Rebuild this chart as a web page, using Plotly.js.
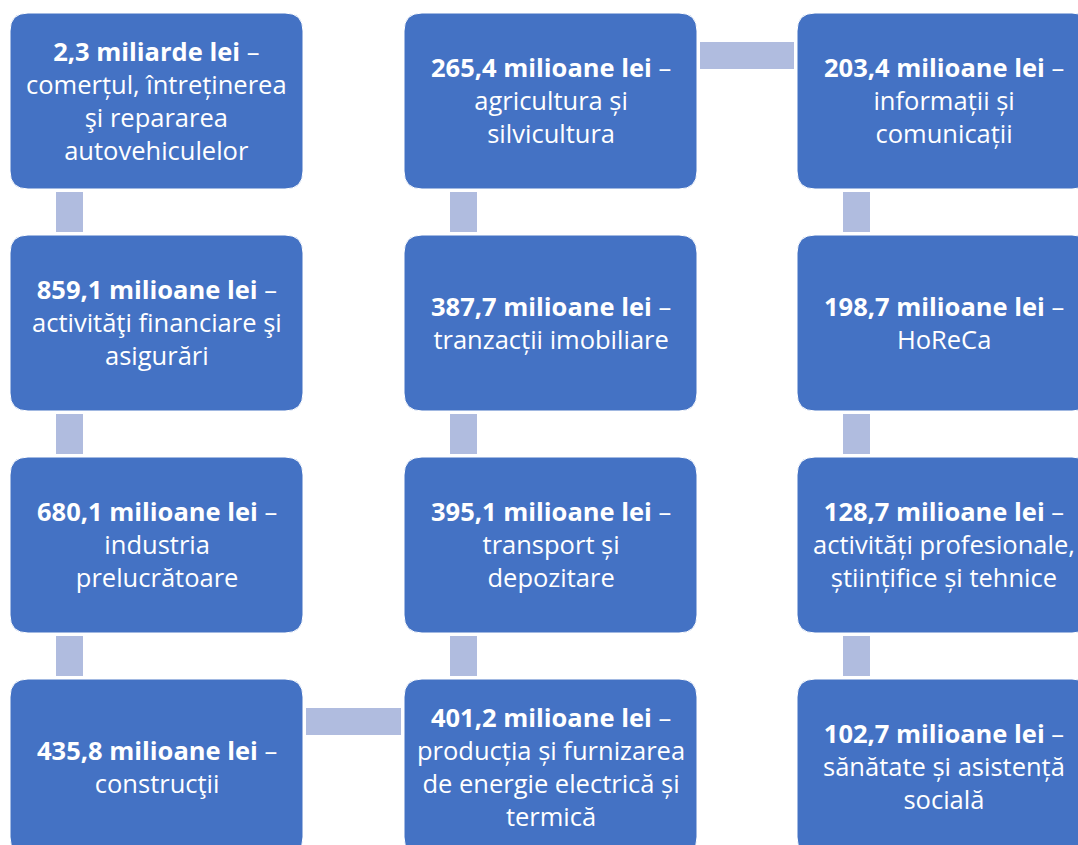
<!DOCTYPE html>
<html>
<head>
<meta charset="utf-8">
<script src="https://cdn.plot.ly/plotly-3.0.1.min.js"></script>
<style>html,body{margin:0;padding:0;background:#fff;} #chart{width:1078px;height:845px;}</style>
</head>
<body>
<div id="chart"></div>
<script>
// Values in flow order (column 1 down, column 2 up, column 3 down)
var amounts = ["2,3 miliarde lei", "859,1 milioane lei", "680,1 milioane lei", "435,8 milioane lei",
               "401,2 milioane lei", "395,1 milioane lei", "387,7 milioane lei", "265,4 milioane lei",
               "203,4 milioane lei", "198,7 milioane lei", "128,7 milioane lei", "102,7 milioane lei"];
var sectors = ["comerțul, întreținerea<br>şi repararea<br>autovehiculelor",
               "activităţi financiare şi<br>asigurări",
               "industria<br>prelucrătoare",
               "construcţii",
               "producția și furnizarea<br>de energie electrică și<br>termică",
               "transport și<br>depozitare",
               "tranzacții imobiliare",
               "agricultura și<br>silvicultura",
               "informații și<br>comunicații",
               "HoReCa",
               "activități profesionale,<br>științifice și tehnice",
               "sănătate și asistență<br>socială"];
// grid slot (column, row) of each step in the flow
var cols = [0, 0, 0, 0, 1, 1, 1, 1, 2, 2, 2, 2];
var rows = [0, 1, 2, 3, 3, 2, 1, 0, 0, 1, 2, 3];

// layout geometry
var colLeft = [10, 404, 797], boxW = 293;
var rowTop = [13, 235, 457, 679], boxH = 176;
var cornerR = 18;
var boxColor = "#4472C4", linkColor = "#B0BCDF";

function roundRect(x0, y0, x1, y1, r) {
  return "M" + (x0 + r) + "," + y0 + " L" + (x1 - r) + "," + y0 + " Q" + x1 + "," + y0 + " " + x1 + "," + (y0 + r) +
    " L" + x1 + "," + (y1 - r) + " Q" + x1 + "," + y1 + " " + (x1 - r) + "," + y1 +
    " L" + (x0 + r) + "," + y1 + " Q" + x0 + "," + y1 + " " + x0 + "," + (y1 - r) +
    " L" + x0 + "," + (y0 + r) + " Q" + x0 + "," + y0 + " " + (x0 + r) + "," + y0 + " Z";
}

var shapeList = [], annList = [];
// connectors between consecutive steps
for (var i = 0; i < amounts.length - 1; i++) {
  var c0 = cols[i], r0 = rows[i], c1 = cols[i + 1], r1 = rows[i + 1];
  if (c0 === c1) {
    var yA = rowTop[Math.min(r0, r1)] + boxH + 3, yB = rowTop[Math.max(r0, r1)] - 3;
    shapeList.push({type: "rect", xref: "x", yref: "y", x0: colLeft[c0] + 46, x1: colLeft[c0] + 73,
      y0: yA, y1: yB, fillcolor: linkColor, line: {width: 0}, layer: "below"});
  } else {
    var xA = colLeft[Math.min(c0, c1)] + boxW + 3, xB = colLeft[Math.max(c0, c1)] - 3;
    shapeList.push({type: "rect", xref: "x", yref: "y", x0: xA, x1: xB,
      y0: rowTop[r0] + 29, y1: rowTop[r0] + 56, fillcolor: linkColor, line: {width: 0}, layer: "below"});
  }
}
// boxes and labels
var cx = [], cy = [];
for (var k = 0; k < amounts.length; k++) {
  var bx = colLeft[cols[k]], by = rowTop[rows[k]];
  cx.push(bx + boxW / 2); cy.push(by + boxH / 2);
  shapeList.push({type: "path", xref: "x", yref: "y", path: roundRect(bx, by, bx + boxW, by + boxH, cornerR),
    fillcolor: boxColor, line: {color: "#ffffff", width: 1}, layer: "below"});
  annList.push({xref: "x", yref: "y", x: bx + boxW / 2, y: by + boxH / 2 - 1, showarrow: false,
    xanchor: "center", yanchor: "middle", align: "center",
    text: "<b>" + amounts[k] + "</b> –<br>" + sectors[k],
    font: {family: "'Open Sans', 'Noto Sans', sans-serif", size: 25.5, color: "#ffffff"}});
}

var trace = {x: cx, y: cy, type: "scatter", mode: "markers", marker: {opacity: 0, size: 1}, hoverinfo: "skip"};

var layout = {
  width: 1078, height: 845,
  margin: {l: 0, r: 0, t: 0, b: 0, pad: 0},
  paper_bgcolor: "#ffffff", plot_bgcolor: "#ffffff",
  xaxis: {range: [0, 1078], autorange: false, showgrid: false, zeroline: false, showticklabels: false, ticks: ""},
  yaxis: {range: [845, 0], autorange: false, showgrid: false, zeroline: false, showticklabels: false, ticks: ""},
  shapes: shapeList, annotations: annList, showlegend: false
};
Plotly.newPlot("chart", [trace], layout, {displayModeBar: false});
</script>
</body>
</html>
